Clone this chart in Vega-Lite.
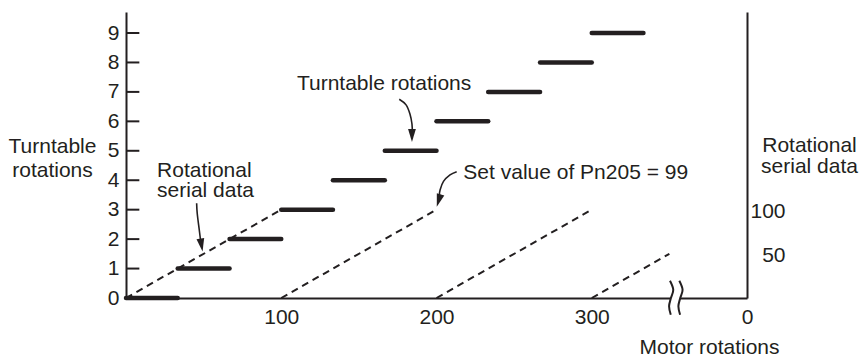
{
  "$schema": "https://vega.github.io/schema/vega-lite/v6.json",
  "width": 621,
  "height": 286,
  "autosize": {"type": "none"},
  "padding": {"left": 126, "top": 12, "right": 115, "bottom": 66},
  "background": "white",
  "config": {
    "view": {"stroke": null},
    "font": "Liberation Sans",
    "axis": {
      "labelFont": "Liberation Sans",
      "titleFont": "Liberation Sans",
      "labelColor": "#231f20",
      "titleColor": "#231f20",
      "domainColor": "#231f20",
      "titleFontWeight": "normal",
      "grid": false
    }
  },
  "datasets": {
    "steps": [
      {"lvl": 0, "x0": 0, "x1": 33.3},
      {"lvl": 1, "x0": 33.3, "x1": 66.7},
      {"lvl": 2, "x0": 66.7, "x1": 100},
      {"lvl": 3, "x0": 100, "x1": 133.3},
      {"lvl": 4, "x0": 133.3, "x1": 166.7},
      {"lvl": 5, "x0": 166.7, "x1": 200},
      {"lvl": 6, "x0": 200, "x1": 233.3},
      {"lvl": 7, "x0": 233.3, "x1": 266.7},
      {"lvl": 8, "x0": 266.7, "x1": 300},
      {"lvl": 9, "x0": 300, "x1": 333.3}
    ],
    "ticks": [{"t": 1}, {"t": 2}, {"t": 3}, {"t": 4}, {"t": 5}, {"t": 6}, {"t": 7}, {"t": 8}, {"t": 9}],
    "ramps": [
      {"seg": 1, "m": 0, "s": 0}, {"seg": 1, "m": 100, "s": 3},
      {"seg": 2, "m": 100, "s": 0}, {"seg": 2, "m": 200, "s": 3},
      {"seg": 3, "m": 200, "s": 0}, {"seg": 3, "m": 300, "s": 3},
      {"seg": 4, "m": 300, "s": 0}, {"seg": 4, "m": 350, "s": 1.5}
    ],
    "mask": [{"x0": 351.0, "x1": 356.8, "y0": -0.07, "y1": 0.07}],
    "brk": [
      {"c": "a", "o": 1, "x": 350.4, "y": 0.588},
      {"c": "a", "o": 2, "x": 352.5, "y": 0.282},
      {"c": "a", "o": 3, "x": 351.0, "y": 0},
      {"c": "a", "o": 4, "x": 349.8, "y": -0.282},
      {"c": "a", "o": 5, "x": 350.9, "y": -0.567},
      {"c": "b", "o": 1, "x": 356.4, "y": 0.588},
      {"c": "b", "o": 2, "x": 358.5, "y": 0.282},
      {"c": "b", "o": 3, "x": 357.0, "y": 0},
      {"c": "b", "o": 4, "x": 355.8, "y": -0.282},
      {"c": "b", "o": 5, "x": 356.9, "y": -0.567}
    ],
    "arrows": [
      {"id": "turn", "o": 1, "x": 176.0, "y": 6.75},
      {"id": "turn", "o": 2, "x": 180.4, "y": 6.56},
      {"id": "turn", "o": 3, "x": 182.9, "y": 6.25},
      {"id": "turn", "o": 4, "x": 184.2, "y": 5.91},
      {"id": "turn", "o": 5, "x": 184.4, "y": 5.60},
      {"id": "ser", "o": 1, "x": 45.5, "y": 3.22},
      {"id": "ser", "o": 2, "x": 45.9, "y": 2.86},
      {"id": "ser", "o": 3, "x": 47.2, "y": 2.31},
      {"id": "ser", "o": 4, "x": 48.0, "y": 1.97},
      {"id": "set", "o": 1, "x": 213.0, "y": 4.29},
      {"id": "set", "o": 2, "x": 208.7, "y": 4.18},
      {"id": "set", "o": 3, "x": 204.5, "y": 3.96},
      {"id": "set", "o": 4, "x": 202.3, "y": 3.67},
      {"id": "set", "o": 5, "x": 201.9, "y": 3.50}
    ],
    "heads": [
      {"id": "turn", "x": 184.2, "y": 5.52},
      {"id": "ser", "x": 48.6, "y": 1.80},
      {"id": "set", "x": 201.4, "y": 3.31}
    ],
    "labels": [
      {"t": "Turntable rotations", "x": 110.1, "y": 7.07},
      {"t": "Rotational", "x": 20.0, "y": 4.11},
      {"t": "serial data", "x": 20.0, "y": 3.44},
      {"t": "Set value of Pn205 = 99", "x": 217.3, "y": 4.04}
    ]
  },
  "resolve": {"axis": {"y": "independent"}},
  "layer": [
    {
      "data": {"name": "steps"},
      "mark": {"type": "rule", "strokeWidth": 4.5, "strokeCap": "round", "color": "#231f20"},
      "encoding": {
        "x": {
          "field": "x0", "type": "quantitative",
          "scale": {"domain": [0, 400], "nice": false, "zero": false},
          "axis": {
            "values": [100, 200, 300, 400],
            "labelExpr": "datum.value == 400 ? '0' : datum.label",
            "ticks": false, "domainWidth": 2, "labelFontSize": 21, "labelPadding": 8,
            "labelFlush": false,
            "title": "Motor rotations", "titleFontSize": 21, "titleX": 583, "titleY": 55,
            "titleBaseline": "alphabetic", "titleAlign": "center"
          }
        },
        "x2": {"field": "x1"},
        "y": {
          "field": "lvl", "type": "quantitative",
          "scale": {"domain": [0, 9.714], "nice": false, "zero": false},
          "axis": {
            "orient": "left",
            "values": [0, 1, 2, 3, 4, 5, 6, 7, 8, 9],
            "ticks": false, "domainWidth": 2, "labelFontSize": 21, "labelPadding": 7,
            "labelFlush": false,
            "title": ["Turntable", "rotations"], "titleAngle": 0, "titleAlign": "center",
            "titleBaseline": "alphabetic", "titleX": -74, "titleY": 140.7,
            "titleFontSize": 21, "titleLineHeight": 24
          }
        }
      }
    },
    {
      "data": {"name": "ticks"},
      "mark": {"type": "rule", "strokeWidth": 2, "color": "#231f20"},
      "encoding": {
        "x": {"datum": 0, "type": "quantitative"},
        "x2": {"datum": 8.6},
        "y": {"field": "t", "type": "quantitative", "axis": null}
      }
    },
    {
      "data": {"name": "ramps"},
      "mark": {"type": "line", "strokeWidth": 2, "strokeDash": [7, 5], "color": "#231f20"},
      "encoding": {
        "x": {"field": "m", "type": "quantitative"},
        "y": {
          "field": "s", "type": "quantitative",
          "axis": {
            "orient": "right",
            "values": [1.5, 3],
            "labelExpr": "datum.value == 3 ? '100' : '50'",
            "ticks": false, "domainWidth": 2, "labelFontSize": 21,
            "labelAlign": "right", "labelPadding": 38, "labelOffset": 2, "labelFlush": false,
            "title": ["Rotational", "serial data"], "titleAngle": 0, "titleAlign": "center",
            "titleBaseline": "alphabetic", "titleX": 62, "titleY": 139.7,
            "titleFontSize": 21, "titleLineHeight": 21
          }
        },
        "detail": {"field": "seg"}
      }
    },
    {
      "data": {"name": "mask"},
      "mark": {"type": "rect", "color": "white"},
      "encoding": {
        "x": {"field": "x0", "type": "quantitative"},
        "x2": {"field": "x1"},
        "y": {"field": "y0", "type": "quantitative", "axis": null},
        "y2": {"field": "y1"}
      }
    },
    {
      "data": {"name": "brk"},
      "mark": {"type": "line", "interpolate": "cardinal", "strokeWidth": 2, "color": "#231f20"},
      "encoding": {
        "x": {"field": "x", "type": "quantitative"},
        "y": {"field": "y", "type": "quantitative", "axis": null},
        "detail": {"field": "c"},
        "order": {"field": "o"}
      }
    },
    {
      "data": {"name": "arrows"},
      "mark": {"type": "line", "interpolate": "cardinal", "strokeWidth": 1.6, "color": "#231f20"},
      "encoding": {
        "x": {"field": "x", "type": "quantitative"},
        "y": {"field": "y", "type": "quantitative", "axis": null},
        "detail": {"field": "id"},
        "order": {"field": "o"}
      }
    },
    {
      "data": {"name": "heads"},
      "transform": [{"filter": "datum.id == 'turn'"}],
      "mark": {"type": "point", "filled": true, "opacity": 1, "color": "#231f20", "shape": "M-0.6,-1L0.6,-1L0,1Z", "size": 169, "angle": 0},
      "encoding": {
        "x": {"field": "x", "type": "quantitative"},
        "y": {"field": "y", "type": "quantitative", "axis": null}
      }
    },
    {
      "data": {"name": "heads"},
      "transform": [{"filter": "datum.id == 'ser'"}],
      "mark": {"type": "point", "filled": true, "opacity": 1, "color": "#231f20", "shape": "M-0.6,-1L0.6,-1L0,1Z", "size": 169, "angle": 350},
      "encoding": {
        "x": {"field": "x", "type": "quantitative"},
        "y": {"field": "y", "type": "quantitative", "axis": null}
      }
    },
    {
      "data": {"name": "heads"},
      "transform": [{"filter": "datum.id == 'set'"}],
      "mark": {"type": "point", "filled": true, "opacity": 1, "color": "#231f20", "shape": "M-0.6,-1L0.6,-1L0,1Z", "size": 169, "angle": 17},
      "encoding": {
        "x": {"field": "x", "type": "quantitative"},
        "y": {"field": "y", "type": "quantitative", "axis": null}
      }
    },
    {
      "data": {"name": "labels"},
      "mark": {"type": "text", "align": "left", "baseline": "alphabetic", "fontSize": 21, "font": "Liberation Sans", "color": "#231f20"},
      "encoding": {
        "x": {"field": "x", "type": "quantitative"},
        "y": {"field": "y", "type": "quantitative", "axis": null},
        "text": {"field": "t"}
      }
    }
  ]
}
